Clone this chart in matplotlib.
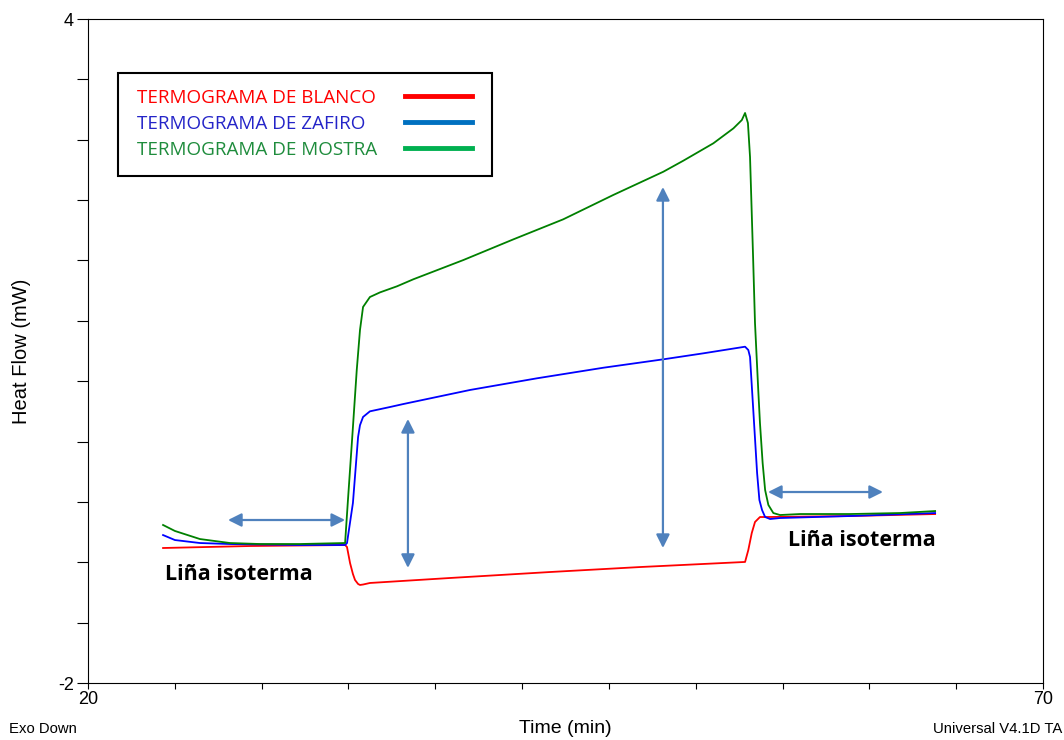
import numpy as np
from matplotlib import pyplot as plt
from matplotlib.patches import Rectangle

# Data (time in min, heat flow in mW)
t_blanco = [23.93, 28.48, 33.46, 33.56, 33.72, 33.87, 33.98, 34.14, 34.24, 34.40, 34.76, 38.95,
            44.19, 48.90, 54.40, 54.57, 54.75, 54.92, 55.18, 55.53, 59.90, 64.35]
hf_blanco = [-0.780, -0.762, -0.753, -0.771, -0.916, -1.015, -1.069, -1.105, -1.114, -1.110, -1.096, -1.051,
             -0.997, -0.952, -0.906, -0.798, -0.645, -0.545, -0.500, -0.500, -0.491, -0.473]

t_zafiro = [23.93, 24.55, 25.86, 27.43, 31.10, 33.46, 33.56, 33.87, 34.14, 34.24, 34.40, 34.76,
            35.81, 36.51, 40.00, 43.49, 46.98, 50.12, 52.21, 54.40, 54.57, 54.66, 54.82, 55.03,
            55.15, 55.29, 55.45, 55.71, 56.23, 59.90, 64.35]
hf_zafiro = [-0.663, -0.708, -0.735, -0.744, -0.753, -0.753, -0.735, -0.373, 0.223, 0.330, 0.404, 0.455,
             0.494, 0.521, 0.648, 0.753, 0.849, 0.925, 0.979, 1.039, 1.009, 0.946, 0.494, -0.102,
             -0.346, -0.437, -0.500, -0.518, -0.509, -0.491, -0.464]

t_mostra = [23.93, 24.55, 25.86, 27.43, 29.01, 31.10, 33.46, 33.61, 33.86, 34.07, 34.24, 34.40,
            34.76, 35.29, 36.18, 37.03, 39.65, 42.27, 44.88, 47.50, 50.12, 51.17, 52.74, 53.79,
            54.23, 54.40, 54.55, 54.66, 54.82, 54.92, 55.09, 55.18, 55.32, 55.45, 55.62, 55.88,
            56.23, 57.28, 59.90, 62.51, 64.35]
hf_mostra = [-0.572, -0.626, -0.699, -0.735, -0.744, -0.744, -0.735, -0.346, 0.286, 0.828, 1.190, 1.398,
             1.488, 1.530, 1.585, 1.648, 1.822, 2.009, 2.190, 2.410, 2.620, 2.720, 2.877, 3.012,
             3.087, 3.151, 3.060, 2.753, 1.849, 1.253, 0.648, 0.350, -0.012, -0.256, -0.391, -0.464,
             -0.482, -0.473, -0.473, -0.464, -0.446]

legend_labels = ['TERMOGRAMA DE BLANCO', 'TERMOGRAMA DE ZAFIRO', 'TERMOGRAMA DE MOSTRA']
legend_text_colors = ['#ff0000', '#2424c8', '#1e8c3c']
legend_line_colors = ['#ff0000', '#0070c0', '#00b050']

# double arrows: (x0, y0, x1, y1)
arrows = [(27.33, -0.527, 33.46, -0.527),
          (36.75, 0.386, 36.75, -0.960),
          (50.10, 2.482, 50.10, -0.780),
          (55.60, -0.274, 61.62, -0.274)]
arrow_color = '#4f81bd'

plt.rcParams['font.family'] = ['Liberation Sans', 'DejaVu Sans']
fig = plt.figure(figsize=(10.64, 7.40), dpi=100)
ax = fig.add_axes([0.0827, 0.077, 0.8976, 0.8973])

ax.plot(t_blanco, hf_blanco, color='#ff0000', lw=1.3)
ax.plot(t_zafiro, hf_zafiro, color='#0000ff', lw=1.3)
ax.plot(t_mostra, hf_mostra, color='#008000', lw=1.3)

for x0, y0, x1, y1 in arrows:
    ax.annotate('', xy=(x1, y1), xytext=(x0, y0),
                arrowprops=dict(arrowstyle='<|-|>', color=arrow_color, lw=1.6,
                                mutation_scale=20, shrinkA=0, shrinkB=0))

ax.text(27.88, -1.02, 'Liña isoterma', family='Open Sans', fontweight='bold', fontsize=15.5,
        va='center', ha='center')
ax.text(60.50, -0.71, 'Liña isoterma', family='Open Sans', fontweight='bold', fontsize=15.5,
        va='center', ha='center')

# legend box drawn by hand
ax.add_patch(Rectangle((0.0314, 0.7636), 0.3916, 0.1551, transform=ax.transAxes,
                       fill=False, edgecolor='black', lw=1.5, zorder=5))
rows = [0.881, 0.842, 0.803]
for lab, tc, lc, yy in zip(legend_labels, legend_text_colors, legend_line_colors, rows):
    ax.text(0.0513, yy, lab, transform=ax.transAxes, color=tc, fontsize=13.6,
            family='Open Sans', va='center', ha='left')
    ax.plot([0.332, 0.402], [yy + 0.003, yy + 0.003], transform=ax.transAxes, color=lc, lw=3.5)

ax.set_xlim(20, 70)
ax.set_ylim(-2, 4)
ax.set_xticks(np.linspace(20, 70, 12))
ax.set_xticklabels(['20'] + [''] * 10 + ['70'], fontsize=13)
ax.set_yticks(np.linspace(-2, 4, 12))
ax.set_yticklabels(['-2'] + [''] * 10 + ['4'], fontsize=13)
ax.tick_params(axis='x', length=4, pad=2)
ax.tick_params(axis='y', length=8, pad=2)
ax.set_xlabel('Time (min)', fontsize=14)
ax.set_ylabel('Heat Flow (mW)', fontsize=14.5)
ax.xaxis.set_label_coords(0.5, -0.056)
ax.yaxis.set_label_coords(-0.060, 0.5)

fig.text(0.008, 0.006, 'Exo Down', fontsize=10.7, ha='left', va='bottom')
fig.text(0.998, 0.006, 'Universal V4.1D TA', fontsize=10.7, ha='right', va='bottom')

plt.savefig('out.png', dpi=100)
